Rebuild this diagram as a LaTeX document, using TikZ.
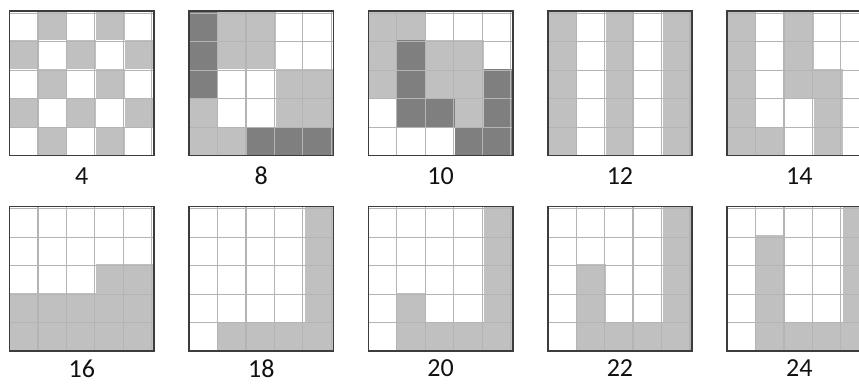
\documentclass[tikz,border=0pt]{standalone}
\usepackage{fontspec}
\setmainfont{Carlito}
\usepackage{xcolor}
\definecolor{ink}{HTML}{111111}
\definecolor{paper}{HTML}{FFFFFF}
\definecolor{light}{HTML}{C0C0C0}
\definecolor{dark}{HTML}{7F7F7F}
\definecolor{rule}{HTML}{B4B4B4}
\definecolor{frame}{HTML}{3C3C3C}
\usepackage{tikz}
\tikzset{
  tone1/.style={fill=light},
  tone2/.style={fill=dark},
  cellline/.style={draw=rule, line width=1.2pt},
  cellframe/.style={draw=frame, line width=1.6pt},
  numlabel/.style={font=\fontsize{26}{30}\selectfont, text=ink, inner sep=0pt, anchor=center},
}
\newcommand\labeldrop{0.7}
% #1,#2: lower left corner; #3: 25 cell tones, row by row from the top; #4: node name; #5: label
\newcommand\tonegrid[5]{%
  \begin{scope}[shift={(#1,#2)}]
    \foreach \v [count=\k from 0] in {#3} {
      \pgfmathtruncatemacro\cc{mod(\k,5)}
      \pgfmathtruncatemacro\rr{(\k-\cc)/5}
      \ifnum\v>0 \fill[tone\v] (\cc,4-\rr) rectangle +(1,1);\fi
    }
    \draw[cellline] (0,0) grid (5,5);
    \draw[cellframe] (0,0) rectangle (5,5);
    \node[numlabel] (#4) at (2.5,-\labeldrop) {#5};
  \end{scope}}

\begin{document}
\begin{tikzpicture}[x=28.9pt, y=28.9pt]
  \useasboundingbox (0,0) rectangle (29.723,13.253);

  % top row
  \tonegrid{0.33}{7.87}{0,1,0,1,0, 1,0,1,0,1, 0,1,0,1,0, 1,0,1,0,1, 0,1,0,1,0}{g4}{4}
  \tonegrid{6.54}{7.87}{2,1,1,0,0, 2,1,1,0,0, 2,0,0,1,1, 1,0,0,1,1, 1,1,2,2,2}{g8}{8}
  \tonegrid{12.744}{7.87}{1,1,0,0,0, 1,2,1,1,0, 1,2,1,1,2, 0,2,2,1,2, 0,0,0,2,2}{g10}{10}
  \tonegrid{18.952}{7.87}{1,0,1,0,1, 1,0,1,0,1, 1,0,1,0,1, 1,0,1,0,1, 1,0,1,0,1}{g12}{12}
  \tonegrid{25.156}{7.87}{1,0,1,0,0, 1,0,1,0,0, 1,0,1,1,0, 1,0,0,1,0, 1,1,0,1,0}{g14}{14}

  % bottom row, labels a little higher to stay inside the page
  \renewcommand\labeldrop{0.6}
  \tonegrid{0.33}{1.107}{0,0,0,0,0, 0,0,0,0,0, 0,0,0,1,1, 1,1,1,1,1, 1,1,1,1,1}{g16}{16}
  \tonegrid{6.54}{1.107}{0,0,0,0,1, 0,0,0,0,1, 0,0,0,0,1, 0,0,0,0,1, 0,1,1,1,1}{g18}{18}
  \tonegrid{12.744}{1.107}{0,0,0,0,1, 0,0,0,0,1, 0,0,0,0,1, 0,1,0,0,1, 0,1,1,1,1}{g20}{20}
  \tonegrid{18.952}{1.107}{0,0,0,0,1, 0,0,0,0,1, 0,1,0,0,1, 0,1,0,0,1, 0,1,1,1,1}{g22}{22}
  \tonegrid{25.156}{1.107}{0,0,0,0,1, 0,1,0,0,1, 0,1,0,0,1, 0,1,0,0,1, 0,1,1,1,1}{g24}{24}
\end{tikzpicture}
\end{document}
